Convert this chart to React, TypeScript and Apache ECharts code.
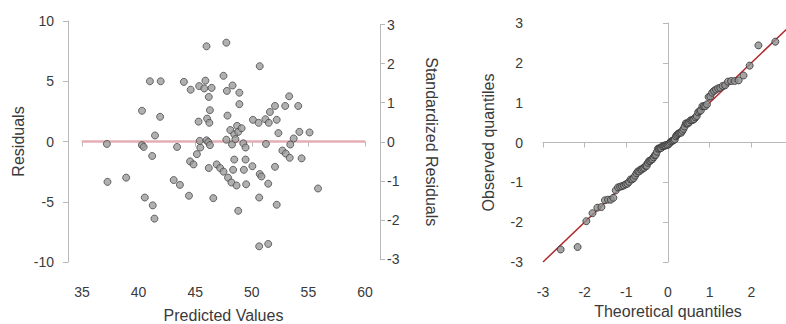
import React, { useEffect, useRef } from "react";
import * as echarts from "echarts";

// Residuals vs predicted (left panel)
const predicted = [
  37.2, 37.25, 38.9, 40.3, 40.3, 40.45, 40.55, 41.0, 41.95, 41.9,
  41.45, 41.2, 41.25, 41.4, 43.4, 43.1, 43.65, 44.0, 44.6, 44.45,
  44.55, 44.85, 45.15, 45.35, 45.3, 45.45, 45.4, 45.9, 45.8, 46.45,
  46.2, 46.3, 46.05, 46.25, 46.0, 46.15, 46.3, 46.0, 46.2, 46.6,
  46.9, 47.2, 47.5, 47.5, 47.75, 47.8, 47.85, 47.75, 47.9, 48.3,
  48.9, 48.9, 48.1, 48.7, 48.45, 48.8, 48.25, 48.55, 48.45, 48.35,
  48.2, 48.65, 48.8, 49.25, 49.45, 49.1, 49.45, 49.3, 49.5, 50.05,
  50.1, 50.6, 50.7, 50.7, 50.85, 50.65, 50.65, 51.2, 51.5, 51.6,
  51.25, 51.45, 51.45, 52.05, 52.2, 52.35, 52.05, 52.2, 52.7, 53.0,
  53.35, 52.95, 53.3, 53.7, 53.4, 54.1, 54.2, 54.4, 55.1, 55.85,
];
const residuals = [
  -0.2, -3.35, -3.0, 2.55, -0.3, -0.45, -4.65, 5.0, 5.0, 2.05,
  0.5, -1.2, -5.3, -6.4, -0.45, -3.2, -3.6, 4.95, 4.3, -4.5,
  -1.65, -1.9, -1.05, 4.6, 1.65, -0.5, 0.05, 5.05, 4.4, 4.45,
  3.7, 2.6, 1.9, 1.55, 0.1, -0.05, -0.3, 7.9, -2.2, -4.7,
  -1.9, -2.2, -2.5, 5.45, 8.2, 4.2, 2.15, 0.15, -3.0, 4.65,
  4.05, 3.1, 0.95, 1.3, 0.6, 0.8, -0.25, 0.2, -1.5, -2.35,
  -3.4, -3.65, -5.75, -0.15, -0.5, 1.1, -1.5, -2.35, -3.55, -2.05,
  1.8, 1.55, 6.25, -2.7, -2.9, -4.65, -8.7, 1.85, 1.55, 2.45,
  -0.2, -3.5, -8.5, 2.95, 1.8, 0.7, -2.1, -5.25, -0.75, -1.0,
  -1.35, 2.95, 3.75, 0.25, -0.25, 2.95, 0.8, -1.4, 0.75, -3.9,
];
const residualSD = 3.24;

// Q-Q plot (right panel): theoretical normal quantiles of the 100 points
const theoreticalQuantiles = [
  -2.576, -2.17, -1.96, -1.812, -1.695, -1.598, -1.514, -1.44, -1.372, -1.311,
  -1.254, -1.2, -1.15, -1.103, -1.058, -1.015, -0.974, -0.935, -0.896, -0.86,
  -0.824, -0.789, -0.755, -0.722, -0.69, -0.659, -0.628, -0.598, -0.568, -0.539,
  -0.51, -0.482, -0.454, -0.426, -0.399, -0.372, -0.345, -0.319, -0.292, -0.266,
  -0.24, -0.215, -0.189, -0.164, -0.138, -0.113, -0.088, -0.063, -0.038, -0.013,
  0.013, 0.038, 0.063, 0.088, 0.113, 0.138, 0.164, 0.189, 0.215, 0.24,
  0.266, 0.292, 0.319, 0.345, 0.372, 0.399, 0.426, 0.454, 0.482, 0.51,
  0.539, 0.568, 0.598, 0.628, 0.659, 0.69, 0.722, 0.755, 0.789, 0.824,
  0.86, 0.896, 0.935, 0.974, 1.015, 1.058, 1.103, 1.15, 1.2, 1.254,
  1.311, 1.372, 1.44, 1.514, 1.598, 1.695, 1.812, 1.96, 2.17, 2.576,
];
const qqReferenceLine = [
  [-3, -3],
  [3, 3],
];

const FONT = "'Liberation Sans', Arial, sans-serif";
const AXIS_GREY = "#b8b8b8";
const TEXT = "#3a3a3a";

export default function App() {
  const ref = useRef<HTMLDivElement>(null);

  useEffect(() => {
    if (!ref.current) return;
    const chart = echarts.init(ref.current, undefined, { renderer: "svg" });

    const scatterData = predicted.map((x, i) => [x, residuals[i]]);
    const observed = [...residuals]
      .sort((a, b) => a - b)
      .map((r) => r / residualSD);
    const qqData = theoreticalQuantiles.map((t, i) => [t, observed[i]]);

    const axisCommon = {
      type: "value" as const,
      splitLine: { show: false },
      axisLine: { show: true, lineStyle: { color: AXIS_GREY, width: 1 } },
      axisTick: { show: true, length: 5, lineStyle: { color: AXIS_GREY } },
      nameLocation: "middle" as const,
      nameTextStyle: { fontSize: 16, color: TEXT, fontFamily: FONT },
    };
    const labelStyle = { fontSize: 14, color: TEXT, fontFamily: FONT };

    const pointStyle = {
      color: "#9c9c9c",
      borderColor: "#4a4a4a",
      borderWidth: 1,
    };
    const qqPointStyle = {
      color: "#8e8e8e",
      borderColor: "#333333",
      borderWidth: 1,
    };

    chart.setOption({
      animation: false,
      backgroundColor: "#ffffff",
      textStyle: { fontFamily: FONT },
      grid: [
        { left: 82, top: 21, width: 283, height: 241, outerBoundsMode: "none" },
        { left: 82, top: 24.5, width: 283, height: 234.5, outerBoundsMode: "none" },
        { left: 543, top: 23, width: 250, height: 239, outerBoundsMode: "none" },
      ],
      xAxis: [
        {
          ...axisCommon,
          gridIndex: 0,
          min: 35,
          max: 60,
          interval: 5,
          offset: 13,
          axisLabel: { ...labelStyle, margin: 10 },
          name: "Predicted Values",
          nameGap: 32,
        },
        {
          type: "value",
          gridIndex: 1,
          min: 35,
          max: 60,
          show: false,
        },
        {
          ...axisCommon,
          gridIndex: 2,
          min: -3,
          max: 3,
          interval: 1,
          offset: 13,
          axisLabel: { ...labelStyle, margin: 10, showMaxLabel: false },
          name: "Theoretical quantiles",
          nameGap: 27,
        },
      ],
      yAxis: [
        {
          ...axisCommon,
          gridIndex: 0,
          position: "left",
          min: -10,
          max: 10,
          interval: 5,
          offset: 14,
          axisLabel: { ...labelStyle, margin: 14 },
          name: "Residuals",
          nameGap: 42,
        },
        {
          ...axisCommon,
          gridIndex: 1,
          position: "right",
          min: -3,
          max: 3,
          interval: 1,
          offset: 15,
          axisLabel: { ...labelStyle, margin: 7 },
          name: "Standardized Residuals",
          nameRotate: -90,
          nameGap: 43,
        },
        {
          ...axisCommon,
          gridIndex: 2,
          position: "left",
          min: -3,
          max: 3,
          interval: 1,
          offset: 11,
          axisLabel: { ...labelStyle, margin: 9 },
          name: "Observed quantiles",
          nameGap: 36,
        },
      ],
      series: [
        {
          type: "scatter",
          xAxisIndex: 0,
          yAxisIndex: 0,
          symbolSize: 7,
          itemStyle: pointStyle,
          data: scatterData,
          z: 3,
          markLine: {
            silent: true,
            symbol: "none",
            label: { show: false },
            lineStyle: { color: "#e3aeb5", width: 2.5, type: "solid" },
            data: [{ yAxis: 0 }],
            z: 1,
          },
        },
        {
          type: "line",
          xAxisIndex: 2,
          yAxisIndex: 2,
          data: qqReferenceLine,
          symbol: "none",
          lineStyle: { color: "#b0282a", width: 1.5 },
          z: 2,
        },
        {
          type: "scatter",
          xAxisIndex: 2,
          yAxisIndex: 2,
          symbolSize: 7,
          itemStyle: qqPointStyle,
          data: qqData,
          z: 3,
        },
      ],
    });

    return () => chart.dispose();
  }, []);

  return (
    <div
      style={{
        position: "fixed",
        left: 0,
        top: 0,
        width: 786,
        height: 324,
        overflow: "hidden",
        background: "#fff",
      }}
    >
      <div ref={ref} style={{ width: 786, height: 324 }} />
    </div>
  );
}
